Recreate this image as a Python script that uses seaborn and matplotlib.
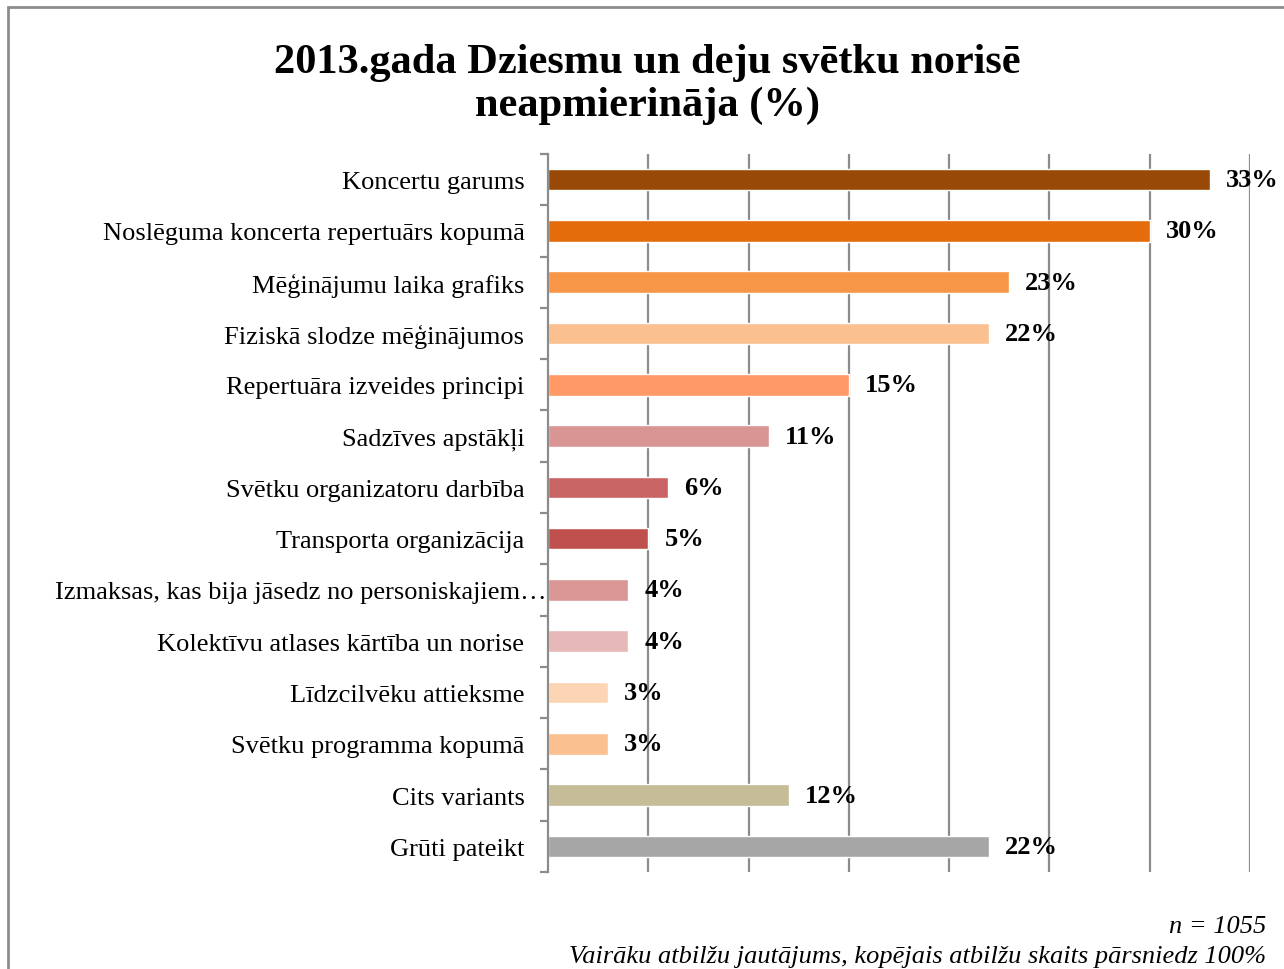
import matplotlib
matplotlib.use("Agg")
import seaborn as sns
from matplotlib import pyplot as plt
from matplotlib.patches import Rectangle
from matplotlib.transforms import ScaledTranslation
from matplotlib.ticker import FixedLocator, NullFormatter

# data
categories = [
    "Koncertu garums",
    "Noslēguma koncerta repertuārs kopumā",
    "Mēģinājumu laika grafiks",
    "Fiziskā slodze mēģinājumos",
    "Repertuāra izveides principi",
    "Sadzīves apstākļi",
    "Svētku organizatoru darbība",
    "Transporta organizācija",
    "Izmaksas, kas bija jāsedz no personiskajiem…",
    "Kolektīvu atlases kārtība un norise",
    "Līdzcilvēku attieksme",
    "Svētku programma kopumā",
    "Cits variants",
    "Grūti pateikt",
]
values = [33, 30, 23, 22, 15, 11, 6, 5, 4, 4, 3, 3, 12, 22]
bar_colors = [
    "#984807", "#E46C0A", "#F79646", "#FAC090", "#FF9966", "#D99594",
    "#C96464", "#C0504D", "#D99694", "#E6B9B8", "#FCD5B5", "#FAC090",
    "#C4BD97", "#A6A6A6",
]

title = "2013.gada Dziesmu un deju svētku norisē\nneapmierināja (%)"
note_n = "n = 1055"
note_multi = "Vairāku atbilžu jautājums, kopējais atbilžu skaits pārsniedz 100%"

sns.set_style("white")
plt.rcParams["font.family"] = ["Liberation Serif", "DejaVu Serif"]
plt.rcParams["text.color"] = "black"

fig = plt.figure(figsize=(12.84, 9.70), dpi=100)
ax = fig.add_axes([0.4268, 0.100, 0.5467, 0.7402])

sns.barplot(x=values, y=categories, hue=categories, palette=bar_colors,
            legend=False, width=0.42, saturation=1, orient="h", ax=ax)

ax.set_xlim(0, 35)
ax.set_ylim(len(categories) - 0.5, -0.5)
ax.xaxis.set_major_locator(FixedLocator(range(5, 36, 5)))
ax.xaxis.set_major_formatter(NullFormatter())
ax.tick_params(axis="x", length=0)
ax.grid(axis="x", color="#8c8c8c", linewidth=1.6)
ax.set_axisbelow(True)
for s in ["top", "right", "bottom"]:
    ax.spines[s].set_visible(False)
ax.spines["left"].set_color("#8c8c8c")
ax.spines["left"].set_linewidth(1.6)

# ticks between categories, labels at centres
ax.yaxis.set_minor_locator(FixedLocator([i - 0.5 for i in range(len(categories) + 1)]))
ax.tick_params(axis="y", which="minor", length=6, width=1.6, color="#8c8c8c", left=True)
ax.tick_params(axis="y", which="major", length=0, pad=17, labelsize=19, labelcolor="black")
ax.set_xlabel("")
ax.set_ylabel("")

# the truncated label runs up to the axis in the original
for lbl in ax.get_yticklabels():
    if lbl.get_text().endswith("…"):
        lbl.set_transform(lbl.get_transform() + ScaledTranslation(0.22, 0, fig.dpi_scale_trans))

for i, v in enumerate(values):
    ax.text(v + 0.8, i, f"{v}%", va="center", ha="left",
            fontsize=19, fontweight="bold", color="black")

fig.text(0.504, 0.955, title, ha="center", va="top", fontsize=30.5,
         fontweight="bold", linespacing=1.18, color="black")
fig.text(0.986, 0.038, note_n, ha="right", va="baseline", fontsize=19,
         style="italic", color="black")
fig.text(0.986, 0.007, note_multi, ha="right", va="baseline", fontsize=19,
         style="italic", color="black")

fig.patches.append(Rectangle((0.0062, -0.05), 1.1, 1.0418, transform=fig.transFigure,
                             fill=False, edgecolor="#8c8c8c", linewidth=2))

plt.savefig("out.png", dpi=100)
